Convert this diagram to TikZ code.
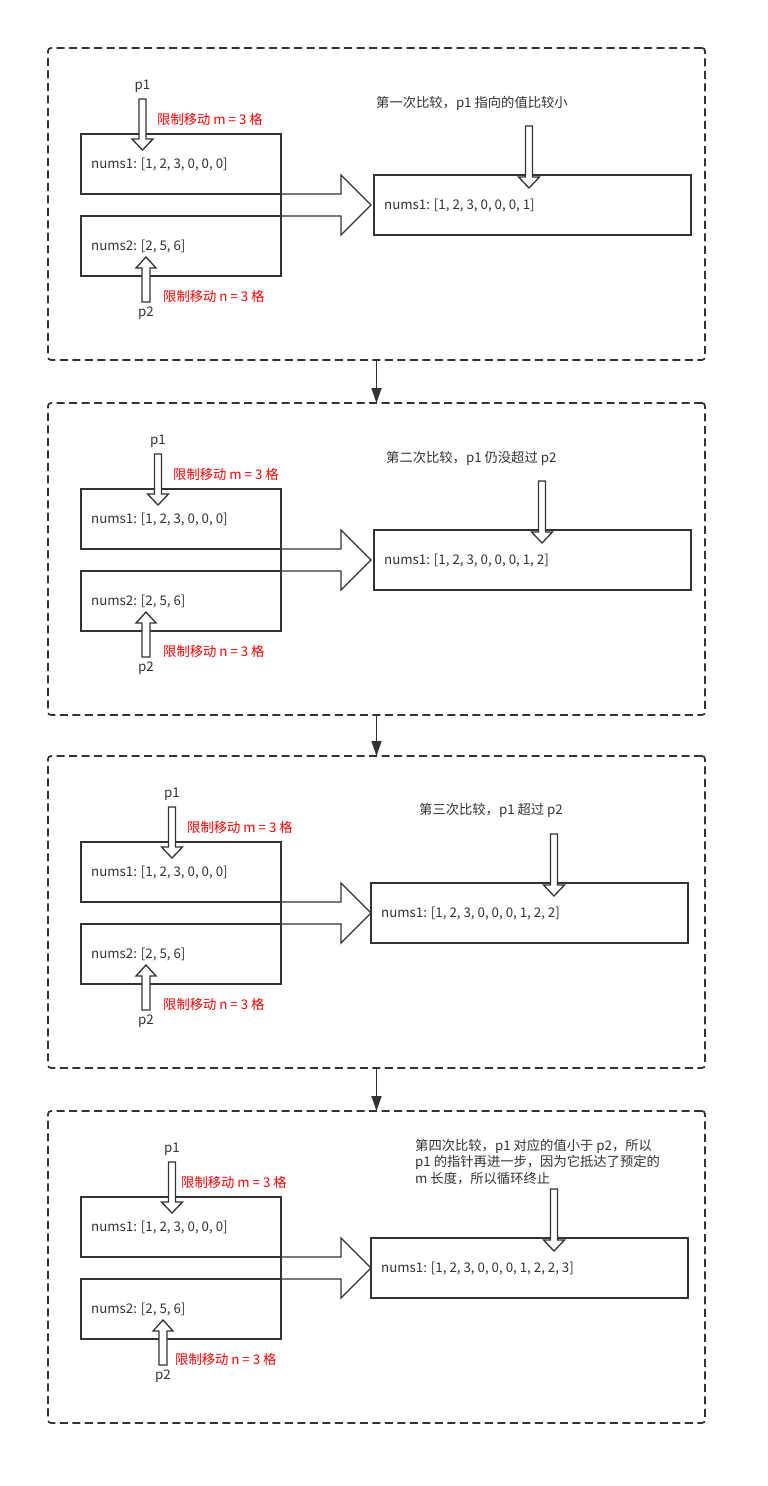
\documentclass[tikz,border=0pt]{standalone}
\usepackage{fontspec}
\newfontfamily\cjk{Noto Sans CJK SC}
\usetikzlibrary{arrows.meta}
\definecolor{ink}{HTML}{333333}
\definecolor{warn}{HTML}{FF0000}
\tikzset{
  frame/.style={draw=ink, line width=1.7pt, dash pattern=on 8pt off 4.5pt, rounded corners=3pt,
    minimum width=657pt, minimum height=312pt, anchor=north west, inner sep=0pt, outer sep=0pt},
  box/.style={draw=ink, line width=1.8pt, minimum height=60pt, anchor=north west, inner sep=0pt, outer sep=0pt},
  blk/.style={draw=ink, line width=1.3pt, fill=white, line join=miter},
  merge/.style={draw=ink, line width=1.3pt, line join=miter},
  txt/.style={text=ink, font=\cjk\fontsize{13.3}{16.5}\selectfont, inner sep=0pt},
  red/.style={text=warn, font=\cjk\fontsize{13.3}{16.5}\selectfont, inner sep=0pt, anchor=west},
  conn/.style={draw=ink, line width=1.4pt, -{Triangle[length=15pt,width=10pt]}},
}
% block pointer arrows: x, top, tip
\newcommand\PtrDown[3]{\draw[blk] (#1-3.5,#2) -- (#1+3.5,#2) -- (#1+3.5,#3-11) -- (#1+10.5,#3-11) -- (#1,#3) -- (#1-10.5,#3-11) -- (#1-3.5,#3-11) -- cycle;}
% x, bottom, tip
\newcommand\PtrUp[3]{\draw[blk] (#1-4,#2) -- (#1+4,#2) -- (#1+4,#3+11) -- (#1+10,#3+11) -- (#1,#3) -- (#1-10,#3+11) -- (#1-4,#3+11) -- cycle;}
% #1 name/offset, #2 p1 x, #3 m label x, #4 p2 x, #5 n label x, #6 result box left, #7 result arrow x, #8 result text
\newcommand\Panel[8]{%
\begin{scope}[shift={(0,#1)}]
  \node[frame] (f#1) at (48,48) {};
  \draw[merge] (281,194) -- (341,194) -- (341,175) -- (371,205) -- (341,235) -- (341,216) -- (281,216);
  \node[box, minimum width=200pt] (a#1) at (81,134) {};
  \node[txt, anchor=west] at ([xshift=10pt]a#1.west) {nums1: [1, 2, 3, 0, 0, 0]};
  \node[box, minimum width=200pt] (b#1) at (81,216) {};
  \node[txt, anchor=west] at ([xshift=10pt]b#1.west) {nums2: [2, 5, 6]};
  \node[box, minimum width=317pt] (r#1) at (#6,175) {};
  \node[txt, anchor=west] at ([xshift=10pt]r#1.west) {#8};
  \draw[merge] (a#1.south east) -- (b#1.north east);
  \node[txt] (p1#1) at (#2,86) {p1};
  \PtrDown{#2}{99}{150}
  \node[red] at (#3,119.5) {限制移动 m = 3 格};
  \node[txt] (p2#1) at (#4,313.5) {p2};
  \PtrUp{#4}{302}{257}
  \node[red] at (#5,296.5) {限制移动 n = 3 格};
  \PtrDown{#7}{126}{188}
\end{scope}}
\begin{document}
\begin{tikzpicture}[x=1pt,y=-1pt]
\useasboundingbox[fill=white] (0,0) rectangle (768,1486);
\Panel{0}{142.5}{157}{146}{163}{374}{529}{nums1: [1, 2, 3, 0, 0, 0, 1]}
\node[txt, anchor=west] (c0) at (376,103) {第一次比较，p1 指向的值比较小};
\Panel{355}{158}{173}{146}{163}{374}{542}{nums1: [1, 2, 3, 0, 0, 0, 1, 2]}
\node[txt, anchor=west] (c355) at (386,458) {第二次比较，p1 仍没超过 p2};
\Panel{708}{172}{187}{146}{163}{371}{554}{nums1: [1, 2, 3, 0, 0, 0, 1, 2, 2]}
\node[txt, anchor=west] (c708) at (419,810) {第三次比较，p1 超过 p2};
\Panel{1063}{172}{181}{163}{175}{371}{554}{nums1: [1, 2, 3, 0, 0, 0, 1, 2, 2, 3]}
\node[txt, anchor=north west, align=left] (c1063) at (415,1139) {第四次比较，p1 对应的值小于 p2，所以\\p1 的指针再进一步，因为它抵达了预定的\\m 长度，所以循环终止};
\draw[conn] (f0.south) -- (f355.north);
\draw[conn] (f355.south) -- (f708.north);
\draw[conn] (f708.south) -- (f1063.north);
\end{tikzpicture}
\end{document}
